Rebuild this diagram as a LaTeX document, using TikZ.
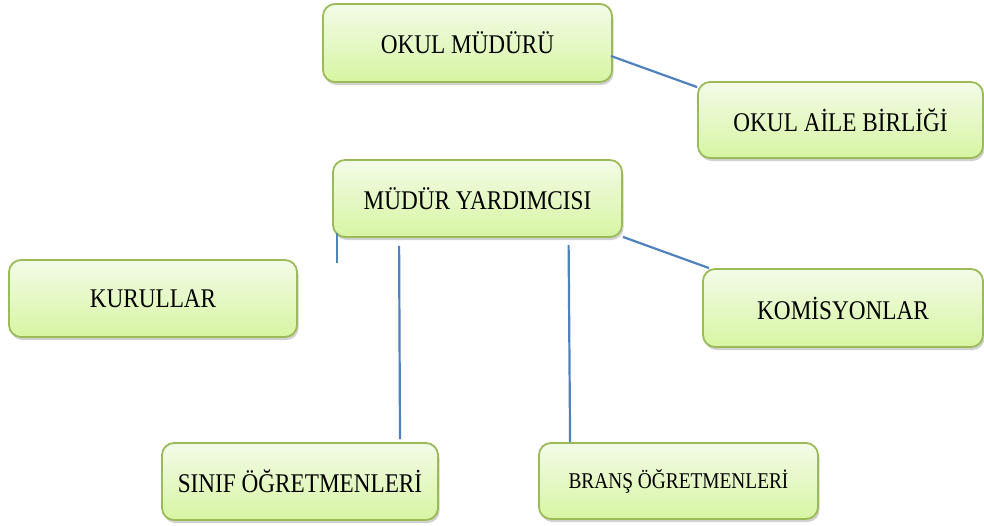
\documentclass[tikz,border=0pt]{standalone}
\usepackage{fontspec}
\usepackage{graphicx}
\setmainfont{Liberation Serif}
\usetikzlibrary{shadows,calc}
\definecolor{boxborder}{HTML}{9BBB59}
\definecolor{boxtop}{HTML}{F3FBE8}
\definecolor{boxbot}{HTML}{D7F5A2}
\definecolor{linkblue}{HTML}{4F81BD}
\newcommand{\narrowlbl}[1]{\scalebox{0.86}[1]{#1}}
\tikzset{
  orgbox/.style={draw=boxborder, line width=1.8pt, rounded corners=12pt,
    top color=boxtop, bottom color=boxbot, inner sep=0pt,
    font=\fontsize{27}{29}\selectfont,
    drop shadow={shadow xshift=1.5pt, shadow yshift=-3pt, opacity=0.3, fill=black!60}},
  bluelink/.style={draw=linkblue, line width=2.2pt},
  greenlink/.style={draw=boxborder, line width=2.3pt}
}
\begin{document}
\begin{tikzpicture}[x=1pt,y=-1pt]
\useasboundingbox (0,0) rectangle (984,525);
\node[orgbox, minimum width=289pt, minimum height=78pt] (OM) at (467.5,43) {\narrowlbl{OKUL MÜDÜRÜ}};
\node[orgbox, minimum width=289pt, minimum height=77pt] (MY) at (477.5,198.5) {\narrowlbl{MÜDÜR YARDIMCISI}};
\node[orgbox, minimum width=285pt, minimum height=76pt] (OAB) at (840.5,120) {\narrowlbl{OKUL AİLE BİRLİĞİ}};
\node[orgbox, minimum width=280pt, minimum height=78pt] (KOM) at (843,308) {\narrowlbl{KOMİSYONLAR}};
\node[orgbox, minimum width=288pt, minimum height=77pt] (KUR) at (153,298.5) {\narrowlbl{KURULLAR}};
\node[orgbox, minimum width=276pt, minimum height=77pt] (SIN) at (300,481.5) {\narrowlbl{SINIF ÖĞRETMENLERİ}};
\node[orgbox, minimum width=279pt, minimum height=76pt, font=\fontsize{22.5}{24}\selectfont] (BR) at (678.5,481) {\narrowlbl{BRANŞ ÖĞRETMENLERİ}};

\coordinate (stubtop) at ($(MY.south west)+(5,-5)$);
\coordinate (stubend) at ($(MY.south west)+(5,25)$);

\draw[greenlink] ($(OM.south)+(1.5,4)$) -- ($(OM.south)+(1.5,4)$ |- MY.north);
\draw[bluelink] ($(OM.east)+(-2,13)$) -- ($(OAB.north west)+(0,6)$);
\draw[bluelink] ($(MY.south east)+(0,-1)$) -- ($(KOM.north west)+(7,0)$);
\draw[bluelink] (stubtop) -- (stubend);
\draw[bluelink] ($(MY.south west)+(67,8)$) -- ($(SIN.north)+(100,-3)$);
\draw[bluelink] ($(MY.south west)+(236.5,7)$) -- ($(BR.north west)+(32,0)$);
\end{tikzpicture}
\end{document}
